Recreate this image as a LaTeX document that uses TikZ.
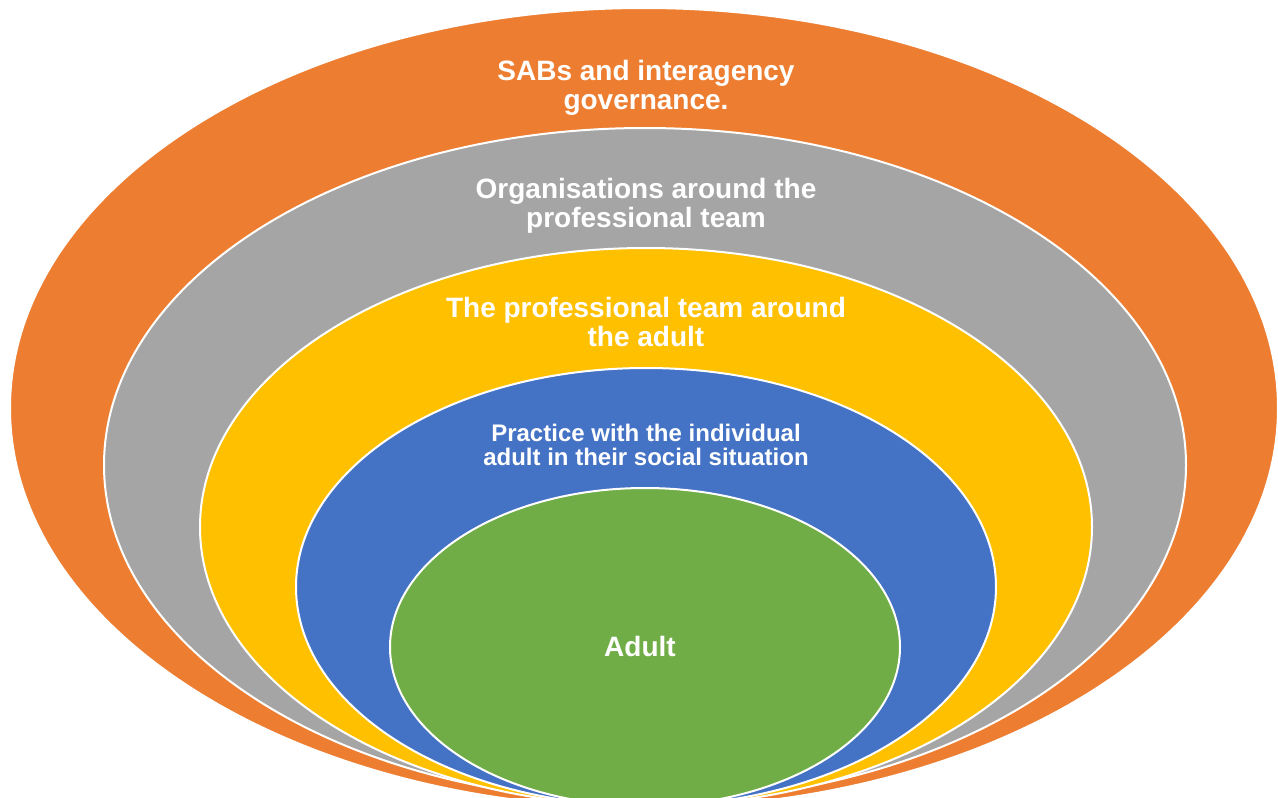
\documentclass[tikz,border=0pt]{standalone}
\usepackage{fontspec}
\setmainfont{Liberation Sans}
\usepackage{tikz}
\usetikzlibrary{shapes.geometric}
\definecolor{saborange}{HTML}{ED7D31}
\definecolor{orggrey}{HTML}{A5A5A5}
\definecolor{teamyellow}{HTML}{FFC000}
\definecolor{pracblue}{HTML}{4472C4}
\definecolor{adultgreen}{HTML}{70AD47}
\tikzset{
  ring/.style={ellipse, draw=white, line width=2pt, inner sep=0pt, outer sep=0pt},
  lbl/.style={text=white, align=center, inner sep=0pt, font=\fontsize{28}{29}\selectfont\bfseries},
  lblsm/.style={lbl, font=\fontsize{24}{24}\selectfont\bfseries},
}

\begin{document}
\begin{tikzpicture}[x=1pt, y=-1pt]
  \useasboundingbox (0,0) rectangle (1278,798);
  \clip (0,0) rectangle (1278,798);
  % nested rings, outer to inner
  \node[ring, fill=saborange, minimum width=1268pt, minimum height=800pt] (sab) at (644,408) {};
  \node[ring, fill=orggrey, minimum width=1082pt, minimum height=674pt] (org) at (645,465) {};
  \node[ring, fill=teamyellow, minimum width=892pt, minimum height=558pt] (team) at (646,527) {};
  \node[ring, fill=pracblue, minimum width=700pt, minimum height=438pt] (prac) at (646,587) {};
  \node[ring, fill=adultgreen, minimum width=510pt, minimum height=318pt] (adult) at (645,647) {};
  % labels
  \node[lbl] (sablbl) at (646,88) {SABs and interagency\\governance.};
  \node[lbl] (orglbl) at (646,206) {Organisations around the\\professional team};
  \node[lbl] (teamlbl) at (646,322) {The professional team around\\the adult};
  \node[lblsm] (praclbl) at (646,445) {Practice with the individual\\adult in their social situation};
  \node[lbl] (adultlbl) at (640,646) {Adult};
\end{tikzpicture}
\end{document}
